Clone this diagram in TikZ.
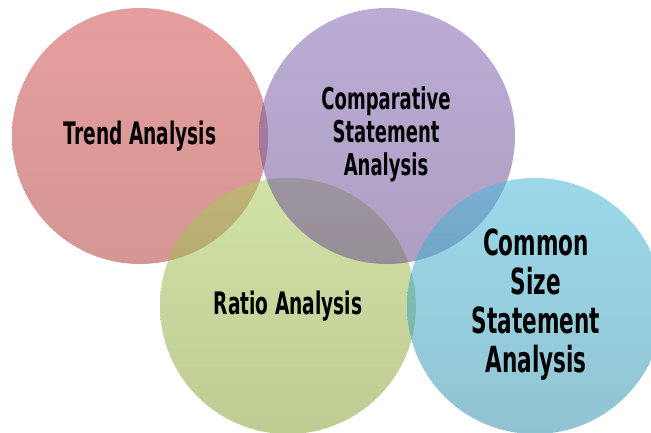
\documentclass[tikz,border=0pt]{standalone}
\usepackage{fontspec}
\usepackage{xcolor}
\usepackage{tikz}
\usetikzlibrary{positioning}
\newfontfamily\vennfont[FakeStretch=0.6]{DejaVu Sans}
\definecolor{trendtop}{HTML}{D04D4D}
\definecolor{trendbottom}{HTML}{B1403C}
\definecolor{comptop}{HTML}{8368B4}
\definecolor{compbottom}{HTML}{6C4F90}
\definecolor{ratiotop}{HTML}{AACA5D}
\definecolor{ratiobottom}{HTML}{89A23C}
\definecolor{commontop}{HTML}{49BAD9}
\definecolor{commonbottom}{HTML}{3792AD}

\tikzset{
  venn/.style={circle, minimum size=256pt, inner sep=0pt, fill opacity=0.55},
  vennlabel/.style 2 args={align=center, text=black, font=\vennfont\bfseries\fontsize{#1}{#2}\selectfont},
}

\begin{document}
\begin{tikzpicture}[x=1pt, y=-1pt]
  \useasboundingbox (0,0) rectangle (651,432);
  \clip (0,0) rectangle (651,432);
  % the four overlapping circles
  \node[venn, top color=trendtop, bottom color=trendbottom] (trend) at (140,136) {};
  \node[venn, top color=ratiotop, bottom color=ratiobottom] (ratio) at (288,306) {};
  \node[venn, top color=comptop, bottom color=compbottom] (compare) at (387,136) {};
  \node[venn, top color=commontop, bottom color=commonbottom] (common) at (535,306) {};
  % labels
  \node[vennlabel={31}{34}] (trendtext) at (140,136) {Trend Analysis};
  \node[vennlabel={30}{33}] (comparetext) at (386,134) {Comparative\\Statement\\Analysis};
  \node[vennlabel={31}{34}] (ratiotext) at (288,306) {Ratio Analysis};
  \node[vennlabel={36}{39}] (commontext) at (536,305) {Common\\Size\\Statement\\Analysis};
\end{tikzpicture}
\end{document}
